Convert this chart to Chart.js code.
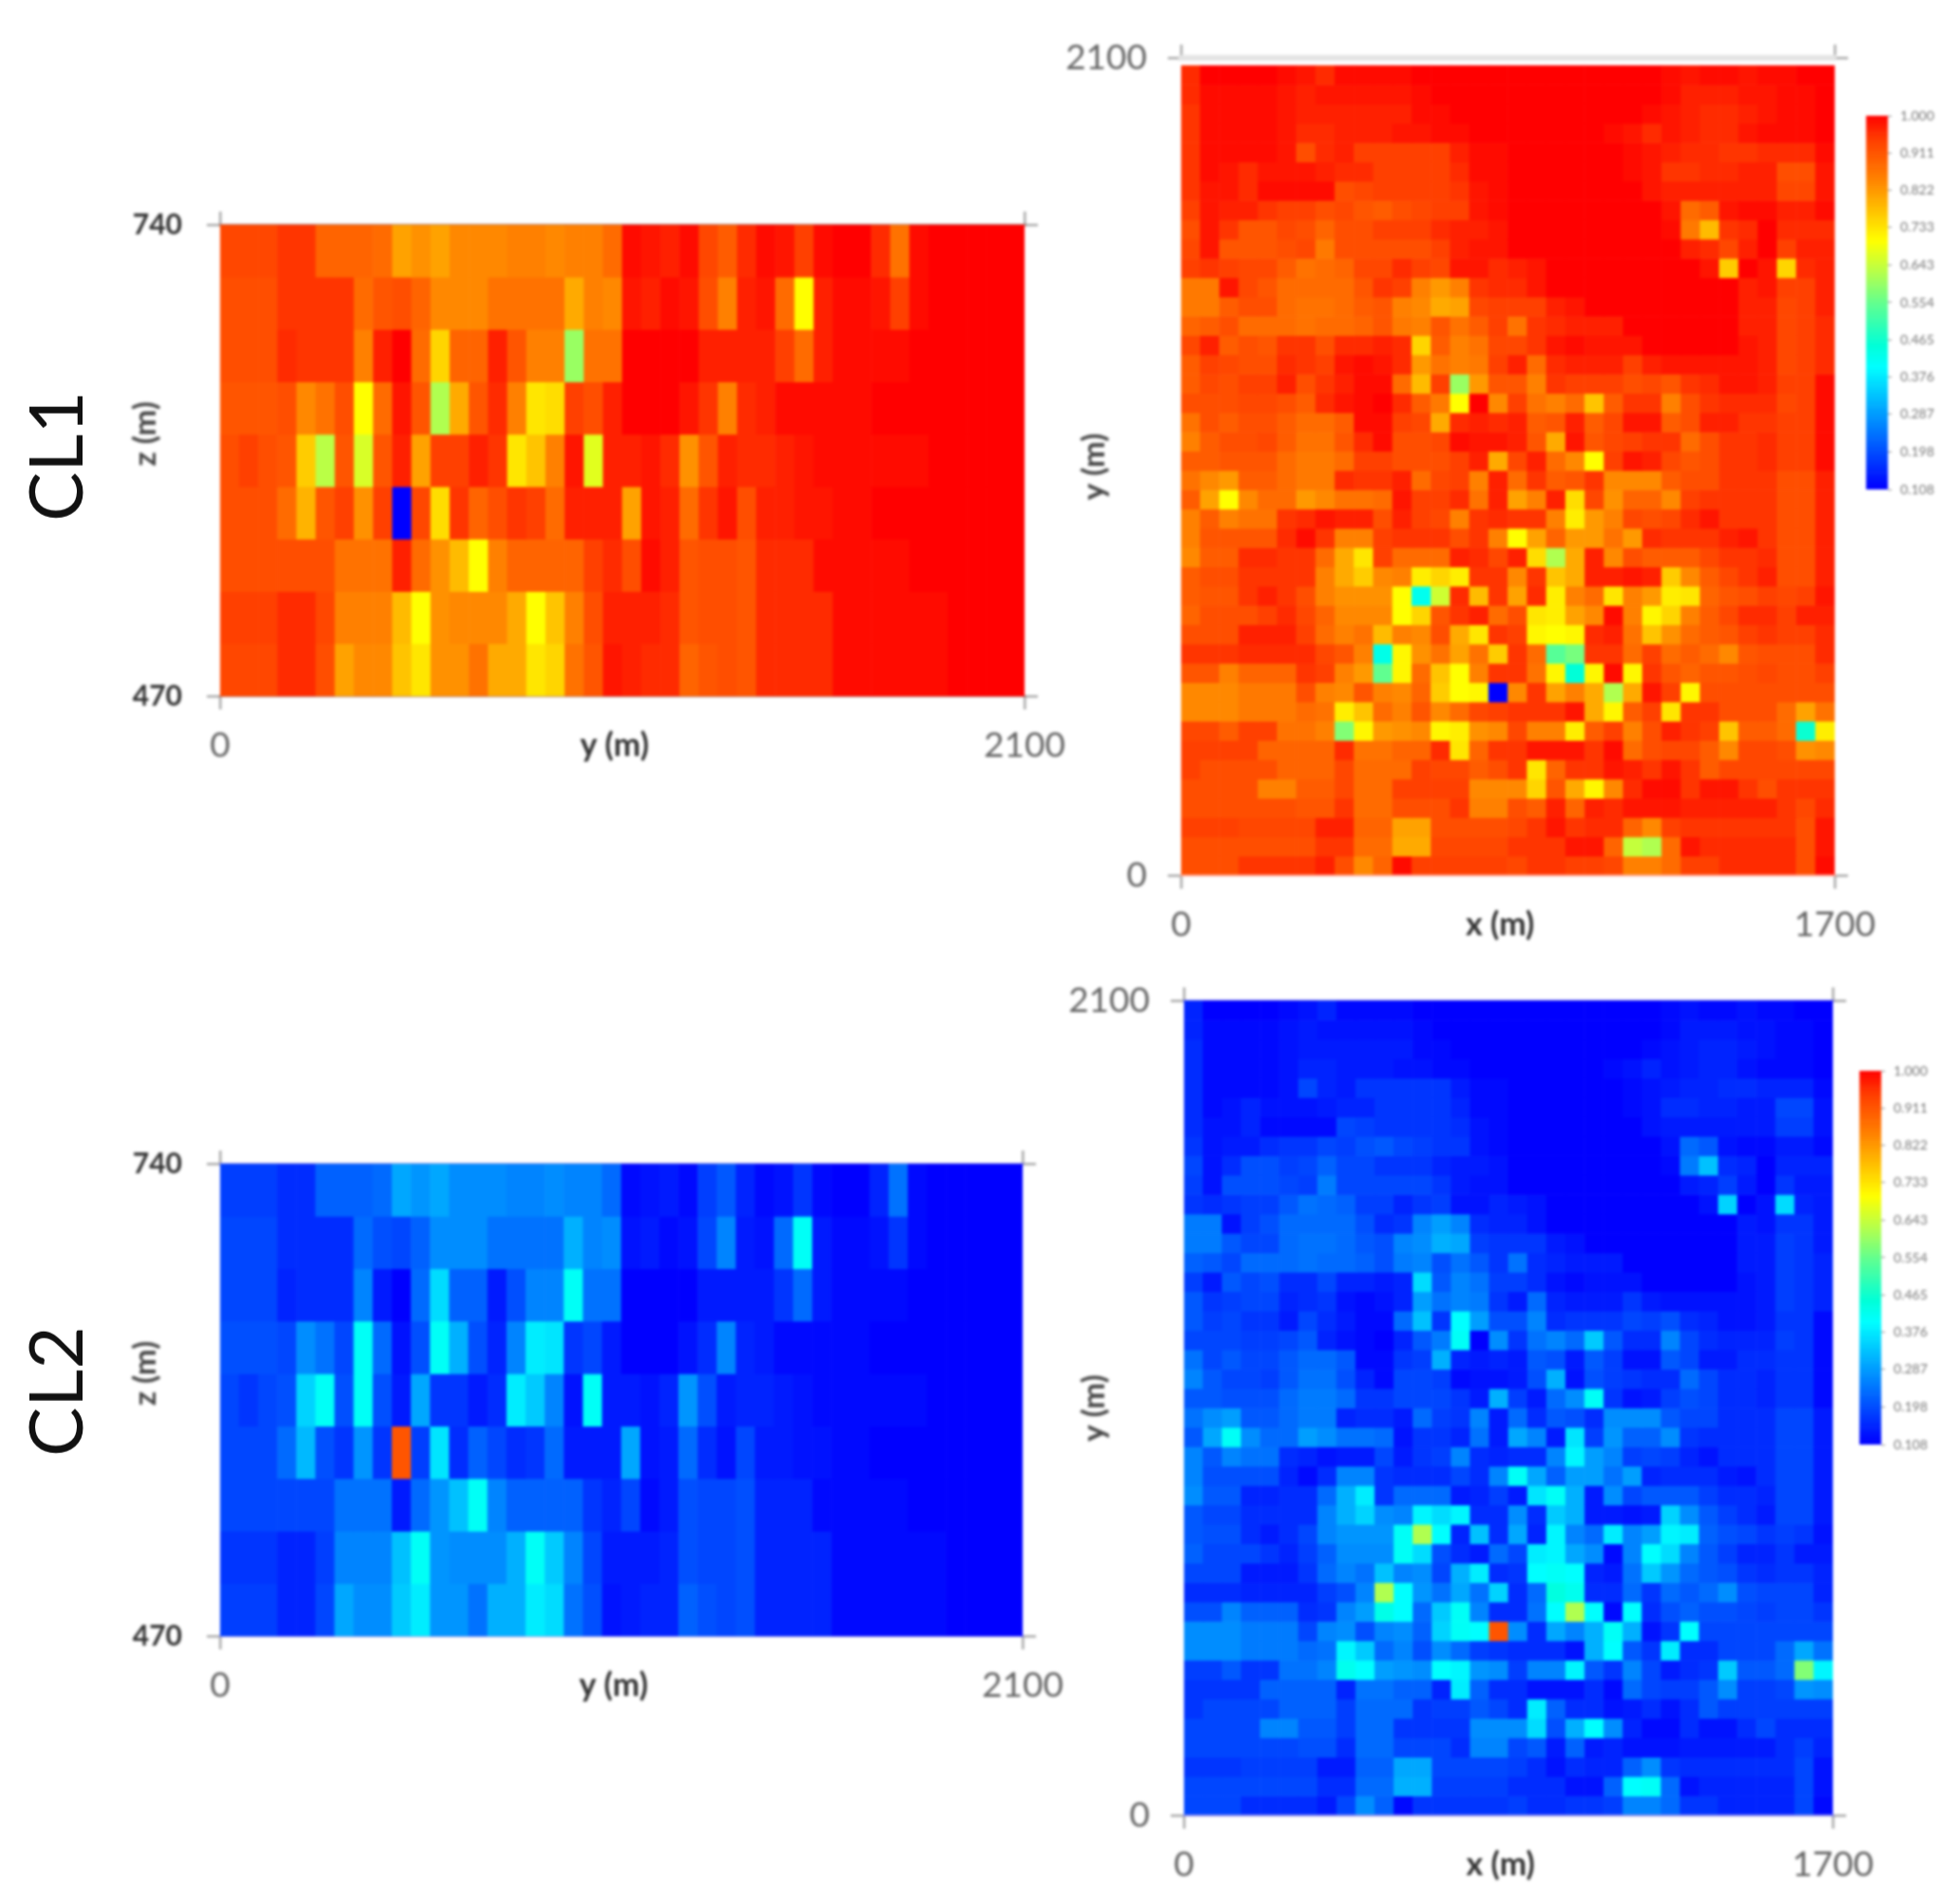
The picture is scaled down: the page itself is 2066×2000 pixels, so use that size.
<!DOCTYPE html>
<html>
<head>
<meta charset="utf-8">
<script src="https://cdn.jsdelivr.net/npm/chart.js@4"></script>
<style>
html,body{margin:0;padding:0;background:#fff}
#page{position:relative;width:2066px;height:2000px;overflow:hidden;background:#fff}
canvas{position:absolute;filter:blur(1.5px)}
.cl{position:absolute;font-family:Lato,sans-serif;font-size:78px;color:#111;transform-origin:center;transform:translate(-50%,-50%) rotate(-90deg);white-space:nowrap;filter:blur(.7px)}
</style>
</head>
<body>
<div id="page">
<div class="cl" style="left:57px;top:481px">CL1</div>
<div class="cl" style="left:57px;top:1467px">CL2</div>
</div>
<script>
// Values are memberships in hundredths, read cell by cell; first row = top of the panel.
const sideTicksX=[0,2100];
const sideTicksY=[470,740];
const planTicksX=[0,1700];
const planTicksY=[0,2100];
const colorbarTicks=[0.108,0.198,0.287,0.376,0.465,0.554,0.643,0.733,0.822,0.911,1.000];
const colorStops=[[11,[0,0,255]],[40,[0,255,255]],[45,[0,255,216]],[55,[96,255,144]],[62,[176,255,80]],[70,[255,255,0]],[85,[255,128,0]],[94,[255,64,0]],[100,[255,0,0]]];

const cl1Side=[
[93,93,93,95,95,89,89,89,88,81,83,81,84,84,84,85,85,84,85,85,88,99,98,97,99,93,90,96,99,98,94,99,100,100,96,87,99,100,100,100,100,100],
[92,92,92,95,95,95,95,88,91,92,89,84,84,84,87,87,87,87,80,85,84,98,97,99,98,92,85,97,98,88,70,97,99,99,98,94,99,100,100,100,100,100],
[92,92,92,96,95,95,95,85,97,100,88,75,89,89,97,91,85,85,60,87,87,100,100,100,100,97,97,97,97,94,88,97,99,99,99,99,100,100,100,100,100,100],
[91,91,91,92,84,87,92,70,88,98,91,62,80,91,96,85,73,74,94,92,97,100,100,100,98,95,85,96,97,99,99,99,99,99,100,100,100,100,100,100,100,100],
[92,94,92,91,76,63,91,66,91,97,81,94,94,97,95,73,77,85,98,67,97,97,98,96,83,91,97,96,96,97,98,99,99,99,99,99,99,100,100,100,100,100],
[92,92,92,88,79,91,94,83,94,11,93,74,95,89,92,95,94,88,97,97,97,81,98,97,88,95,98,92,97,97,98,98,99,99,100,100,100,100,100,100,100,100],
[92,92,92,92,92,92,87,87,87,97,88,83,78,70,85,89,89,89,89,94,96,92,99,97,91,92,92,91,96,96,96,99,99,99,99,99,100,100,100,100,100,100],
[94,94,94,96,96,93,85,85,85,78,70,83,84,84,84,80,70,77,85,92,97,97,97,96,91,92,92,91,96,96,96,96,99,99,99,99,99,99,100,100,100,100],
[93,93,93,96,96,92,81,84,84,77,73,83,83,87,80,80,73,75,87,91,98,97,96,96,89,91,92,91,96,96,96,96,99,99,99,99,99,99,100,100,100,100]
];
const cl2Side=[
[18,18,18,16,16,22,22,22,23,30,28,30,27,27,27,26,26,27,26,26,23,12,13,14,12,18,21,15,12,13,17,12,11,11,15,24,12,11,11,11,11,11],
[19,19,19,16,16,16,16,23,20,19,22,27,27,27,24,24,24,24,31,26,27,13,14,12,13,19,26,14,13,23,41,14,12,12,13,17,12,11,11,11,11,11],
[19,19,19,15,16,16,16,26,14,11,23,36,22,22,14,20,26,26,41,24,24,11,11,11,11,14,14,14,14,17,23,14,12,12,12,12,11,11,11,11,11,11],
[20,20,20,19,27,24,19,41,23,13,20,41,31,20,15,26,38,37,17,19,14,11,11,11,13,16,26,15,14,12,12,12,12,12,11,11,11,11,11,11,11,11],
[19,17,19,20,35,41,20,41,20,14,30,17,17,14,16,38,34,26,13,41,14,14,13,15,28,20,14,15,15,14,13,12,12,12,12,12,12,11,11,11,11,11],
[19,19,19,23,32,20,17,28,17,91,18,37,16,22,19,16,17,23,14,14,14,30,13,14,23,16,13,19,14,14,13,13,12,12,11,11,11,11,11,11,11,11],
[19,19,19,19,19,19,24,24,24,14,23,28,33,41,26,22,22,22,22,17,15,19,12,14,20,19,19,20,15,15,15,12,12,12,12,12,11,11,11,11,11,11],
[17,17,17,15,15,18,26,26,26,33,41,28,27,27,27,31,41,34,26,19,14,14,14,15,20,19,19,20,15,15,15,15,12,12,12,12,12,12,11,11,11,11],
[18,18,18,15,15,19,30,27,27,34,38,28,28,24,31,31,38,36,24,20,13,14,15,15,22,20,19,20,15,15,15,15,12,12,12,12,12,12,11,11,11,11]
];
const cl1Plan=[
[96,100,100,100,100,99,98,96,99,99,99,99,100,100,100,100,100,100,100,100,100,100,100,100,100,99,98,99,99,98,99,99,100,100],
[96,99,99,99,99,98,97,98,98,98,98,98,99,100,100,100,100,100,100,100,100,100,100,100,100,99,97,97,97,98,98,99,99,100],
[95,99,99,99,99,98,97,97,97,97,97,97,99,99,100,100,100,100,100,100,100,100,100,100,99,98,97,96,96,97,98,99,99,100],
[95,99,99,99,99,98,96,96,97,97,97,98,98,99,99,100,100,100,100,100,100,100,99,98,96,98,97,96,96,98,99,99,99,100],
[95,99,99,99,99,98,92,96,97,94,94,94,94,94,97,99,99,100,100,100,100,100,100,99,98,97,96,96,95,95,96,96,96,99],
[95,99,98,96,98,98,98,97,96,96,94,94,94,94,96,99,99,100,100,100,100,100,100,99,98,95,95,96,96,97,97,92,92,98],
[95,98,98,96,99,99,99,99,92,93,94,94,94,94,95,98,99,100,100,100,100,100,100,100,98,97,97,97,97,97,97,93,93,98],
[94,98,97,97,95,94,94,92,93,91,90,92,93,94,94,98,99,100,100,100,100,100,100,100,100,98,88,90,98,99,99,97,97,99],
[92,98,95,91,91,93,92,89,92,92,94,94,94,96,97,97,98,100,100,100,100,100,100,100,100,99,86,78,95,96,100,96,96,96],
[93,98,91,91,91,92,93,86,92,92,92,92,92,94,97,98,98,100,100,100,100,100,100,100,100,100,97,96,93,97,100,94,97,97],
[94,95,94,93,93,90,87,88,89,93,93,96,94,93,98,98,96,97,98,100,100,100,100,100,100,100,100,98,76,100,98,75,96,97],
[86,86,98,93,91,88,88,88,88,91,95,94,85,82,85,95,96,96,98,100,100,100,100,100,100,100,100,100,100,97,98,94,94,97],
[86,86,90,92,92,88,87,87,88,90,91,85,84,80,81,93,94,94,94,97,98,100,100,100,100,100,100,100,100,97,97,93,94,97],
[89,90,92,88,88,88,87,88,88,89,91,86,85,91,87,90,94,87,95,96,97,97,97,100,100,100,100,100,100,97,97,93,94,96],
[93,97,90,92,91,95,95,92,96,96,97,96,75,90,85,87,93,93,95,98,99,98,98,98,100,100,100,100,100,98,97,93,94,96],
[90,94,93,92,92,96,95,94,98,99,98,96,82,87,85,86,94,97,88,96,97,97,97,94,97,98,98,98,98,98,97,93,94,96],
[90,93,92,94,94,97,92,95,97,99,99,88,78,94,60,82,91,91,85,95,94,94,94,92,93,91,95,96,98,98,97,94,94,99],
[92,92,92,93,93,92,90,96,98,99,100,96,90,86,70,100,84,94,87,85,88,77,90,95,95,85,92,95,96,96,96,93,94,99],
[87,92,90,92,92,90,88,88,90,99,99,94,93,80,96,97,96,97,90,91,97,90,93,98,98,90,92,97,97,95,95,94,94,99],
[85,90,92,92,93,90,87,87,91,96,99,92,92,93,99,98,98,97,91,80,98,91,93,94,95,95,88,92,95,95,96,94,94,99],
[90,90,91,91,91,88,86,86,88,94,94,92,92,92,94,97,80,93,97,88,84,70,94,98,97,93,91,92,95,95,96,94,94,99],
[87,84,82,90,90,88,86,86,96,95,95,97,88,93,94,85,97,88,95,90,91,95,84,84,84,90,92,92,95,95,95,92,92,97],
[90,81,70,84,88,88,82,84,87,87,88,98,94,94,96,87,97,81,85,97,74,93,83,89,89,84,94,95,95,95,95,92,92,97],
[85,90,85,87,87,95,96,98,97,97,92,97,94,93,85,95,96,95,95,85,72,82,85,93,92,93,96,98,95,95,95,92,92,97],
[85,91,91,91,91,96,99,95,85,85,94,95,95,95,92,95,85,70,81,89,82,82,87,82,96,95,95,95,97,98,95,92,92,97],
[84,90,90,96,96,95,95,88,80,73,94,88,88,88,97,96,93,97,74,62,80,97,84,92,90,90,90,93,95,95,96,92,92,97],
[90,92,92,95,95,95,95,85,80,76,84,85,72,75,72,95,95,84,95,77,80,97,97,98,97,76,84,90,93,95,97,92,92,97],
[90,91,91,95,97,95,92,85,83,83,83,70,42,65,96,78,95,81,96,72,85,88,73,85,82,72,73,89,91,92,94,93,94,98],
[89,92,92,92,94,96,93,89,84,84,84,70,75,91,95,97,88,92,73,72,81,84,99,85,71,75,85,90,93,96,96,94,97,97],
[92,92,92,97,97,97,94,88,85,87,78,85,84,92,80,73,95,94,71,70,71,96,97,87,77,83,88,90,91,94,95,94,94,96],
[95,95,95,96,96,96,96,93,91,85,43,71,83,87,81,87,76,95,88,54,57,95,95,88,94,88,90,88,84,91,92,92,92,96],
[91,91,85,89,89,89,95,94,85,82,55,71,88,77,70,85,95,95,87,71,45,71,99,71,95,91,89,91,91,92,93,92,92,94],
[84,84,84,86,86,86,92,85,84,91,85,84,89,76,70,71,11,84,95,81,85,80,62,80,98,94,71,92,92,92,92,92,92,92],
[84,84,84,86,86,86,88,87,72,77,88,85,91,84,88,93,94,95,95,95,98,80,71,90,94,73,95,95,92,92,92,88,81,87],
[93,93,90,94,94,87,87,85,58,71,82,83,84,71,72,83,84,93,85,85,72,90,94,85,92,97,95,94,77,90,90,88,46,72],
[94,94,94,94,89,89,89,89,96,87,87,89,89,96,73,89,95,95,98,98,98,95,99,88,92,93,93,90,84,93,93,92,83,84],
[94,92,92,92,92,89,89,89,93,88,88,88,94,93,93,90,92,95,73,89,95,95,98,97,95,98,95,90,93,93,93,93,93,93],
[92,92,92,92,85,85,90,90,93,88,88,94,94,94,94,84,84,84,75,91,80,71,84,96,99,99,95,98,98,95,92,95,95,95],
[92,92,92,92,92,92,91,91,95,88,88,92,92,92,95,85,85,92,90,97,89,97,96,98,98,98,97,97,97,97,97,95,93,96],
[94,94,94,93,93,93,93,97,97,89,89,81,81,92,92,92,92,93,95,98,95,96,96,89,84,94,95,95,95,95,95,95,92,98],
[92,92,92,92,92,92,92,95,95,88,88,80,80,93,93,93,93,95,95,95,98,98,89,64,62,88,98,96,96,96,96,96,92,98],
[92,92,92,95,95,95,95,97,92,84,89,99,94,94,94,94,94,93,95,95,94,94,93,85,85,88,94,94,96,96,96,96,92,99]
];
const cl2Plan=[
[15,11,11,11,11,12,13,15,12,12,12,12,11,11,11,11,11,11,11,11,11,11,11,11,11,12,13,12,12,13,12,12,11,11],
[15,12,12,12,12,13,14,13,13,13,13,13,12,11,11,11,11,11,11,11,11,11,11,11,11,12,14,14,14,13,13,12,12,11],
[16,12,12,12,12,13,14,14,14,14,14,14,12,12,11,11,11,11,11,11,11,11,11,11,12,13,14,15,15,14,13,12,12,11],
[16,12,12,12,12,13,15,15,14,14,14,13,13,12,12,11,11,11,11,11,11,11,12,13,15,13,14,15,15,13,12,12,12,11],
[16,12,12,12,12,13,19,15,14,17,17,17,17,17,14,12,12,11,11,11,11,11,11,12,13,14,15,15,16,16,15,15,15,12],
[16,12,13,15,13,13,13,14,15,15,17,17,17,17,15,12,12,11,11,11,11,11,11,12,13,16,16,15,15,14,14,19,19,13],
[16,13,13,15,12,12,12,12,19,18,17,17,17,17,16,13,12,11,11,11,11,11,11,11,13,14,14,14,14,14,14,18,18,13],
[17,13,14,14,16,17,17,19,18,20,21,19,18,17,17,13,12,11,11,11,11,11,11,11,11,13,23,21,13,12,12,14,14,12],
[19,13,16,20,20,18,19,22,19,19,17,17,17,15,14,14,13,11,11,11,11,11,11,11,11,12,25,33,16,15,11,15,15,15],
[18,13,20,20,20,19,18,25,19,19,19,19,19,17,14,13,13,11,11,11,11,11,11,11,11,11,14,15,18,14,11,17,14,14],
[17,16,17,18,18,21,24,23,22,18,18,15,17,18,13,13,15,14,13,11,11,11,11,11,11,11,11,13,35,11,13,36,15,14],
[25,25,13,18,20,23,23,23,23,20,16,17,26,29,26,16,15,15,13,11,11,11,11,11,11,11,11,11,11,14,13,17,17,14],
[25,25,21,19,19,23,24,24,23,21,20,26,27,31,30,18,17,17,17,14,13,11,11,11,11,11,11,11,11,14,14,18,17,14],
[22,21,19,23,23,23,24,23,23,22,20,25,26,20,24,21,17,24,16,15,14,14,14,11,11,11,11,11,11,14,14,18,17,15],
[18,14,21,19,20,16,16,19,15,15,14,15,36,21,26,24,18,18,16,13,12,13,13,13,11,11,11,11,11,13,14,18,17,15],
[21,17,18,19,19,15,16,17,13,12,13,15,29,24,26,25,17,14,23,15,14,14,14,17,14,13,13,13,13,13,14,18,17,15],
[21,18,19,17,17,14,19,16,14,12,12,23,33,17,40,29,20,20,26,16,17,17,17,19,18,20,16,15,13,13,14,17,17,12],
[19,19,19,18,18,19,21,15,13,12,11,15,21,25,41,11,27,17,24,26,23,34,21,16,16,26,19,16,15,15,15,18,17,12],
[24,19,21,19,19,21,23,23,21,12,12,17,18,31,15,14,15,14,21,20,14,21,18,13,13,21,19,14,14,16,16,17,17,12],
[26,21,19,19,18,21,24,24,20,15,12,19,19,18,12,13,13,14,20,31,13,20,18,17,16,16,23,19,16,16,15,17,17,12],
[21,21,20,20,20,23,25,25,23,17,17,19,19,19,17,14,31,18,14,23,27,41,17,13,14,18,20,19,16,16,15,17,17,12],
[24,27,29,21,21,23,25,25,15,16,16,14,23,18,17,26,14,23,16,21,20,16,27,27,27,21,19,19,16,16,16,19,19,14],
[21,30,41,27,23,23,29,27,24,24,23,13,17,17,15,24,14,30,26,14,37,18,28,22,22,27,17,16,16,16,16,19,19,14],
[26,21,26,24,24,16,15,13,14,14,19,14,17,18,26,16,15,16,16,26,39,29,26,18,19,18,15,13,16,16,16,19,19,14],
[26,20,20,20,20,15,12,16,26,26,17,16,16,16,19,16,26,41,30,22,29,29,24,29,15,16,16,16,14,13,16,19,19,14],
[27,21,21,15,15,16,16,23,31,38,17,23,23,23,14,15,18,14,37,41,31,14,27,19,21,21,21,18,16,16,15,19,19,14],
[21,19,19,16,16,16,16,26,31,35,27,26,39,36,39,16,16,27,16,34,31,14,14,13,14,35,27,21,18,16,14,19,19,14],
[21,20,20,16,14,16,19,26,28,28,28,41,62,40,15,33,16,30,15,39,26,23,38,26,29,39,38,22,20,19,17,18,17,13],
[22,19,19,19,17,15,18,22,27,27,27,41,36,20,16,14,23,19,38,39,30,27,12,26,40,36,26,21,18,15,15,17,14,14],
[19,19,19,14,14,14,17,23,26,24,33,26,27,19,31,38,16,17,40,41,40,15,14,24,34,28,23,21,20,17,16,17,17,15],
[16,16,16,15,15,15,15,18,20,26,62,40,28,24,30,24,35,16,23,44,42,16,16,23,17,23,21,23,27,20,19,19,19,15],
[20,20,26,22,22,22,16,17,26,29,43,40,23,34,41,26,16,16,24,40,62,40,12,40,16,20,22,20,20,19,18,19,19,17],
[27,27,27,25,25,25,19,26,27,20,26,27,22,35,41,40,91,27,16,30,26,31,41,31,13,17,40,19,19,19,19,19,19,19],
[27,27,27,25,25,25,23,24,39,34,23,26,20,27,23,18,17,16,16,16,13,31,40,21,17,38,16,16,19,19,19,23,30,24],
[18,18,21,17,17,24,24,26,42,40,29,28,27,40,39,28,27,18,26,26,39,21,17,26,19,14,16,17,34,21,21,23,58,39],
[17,17,17,17,22,22,22,22,15,24,24,22,22,15,38,22,16,16,13,13,13,16,12,23,19,18,18,21,27,18,18,19,28,27],
[17,19,19,19,19,22,22,22,18,23,23,23,17,18,18,21,19,16,38,22,16,16,13,14,16,13,16,21,18,18,18,18,18,18],
[19,19,19,19,26,26,21,21,18,23,23,17,17,17,17,27,27,27,36,20,31,40,27,15,12,12,16,13,13,16,19,16,16,16],
[19,19,19,19,19,19,20,20,16,23,23,19,19,19,16,26,26,19,21,14,22,14,15,13,13,13,14,14,14,14,14,16,18,15],
[17,17,17,18,18,18,18,14,14,22,22,30,30,19,19,19,19,18,16,13,16,15,15,22,27,17,16,16,16,16,16,16,19,13],
[19,19,19,19,19,19,19,16,16,23,23,31,31,18,18,18,18,16,16,16,13,13,22,40,41,23,13,15,15,15,15,15,19,13],
[19,19,19,16,16,16,16,14,19,27,22,12,17,17,17,17,17,18,16,16,17,17,18,26,26,23,17,17,15,15,15,15,19,12]
];

function jet(v){
  for(let i=1;i<colorStops.length;i++){
    const [b,cb]=colorStops[i];
    if(v<=b){
      const [a,ca]=colorStops[i-1];
      const t=Math.max(0,(v-a)/(b-a));
      return 'rgb('+ca.map((c,k)=>Math.round(c+(cb[k]-c)*t)).join(',')+')';
    }
  }
  return 'rgb(255,0,0)';
}

const tickGrey='#a8a8a8';
const page=document.getElementById('page');
function addCanvas(l,t,w,h){
  const c=document.createElement('canvas');
  c.width=w;c.height=h;
  c.style.left=l+'px';c.style.top=t+'px';c.style.width=w+'px';c.style.height=h+'px';
  page.appendChild(c);
  return c;
}
function setTicks(list){return s=>{s.ticks=list.map(value=>({value}));};}

function panel(p){
  const rightM=80,bottomM=80,topM=p.top-p.canvasTop,leftM=p.left-p.canvasLeft;
  const W=p.right-p.left+leftM+rightM,H=p.bottom-p.top+topM+bottomM;
  const canvas=addCanvas(p.canvasLeft,p.canvasTop,W,H);
  const rows=p.rows.length;
  const datasets=p.rows.map((row,r)=>({
    grouped:false,borderWidth:0,
    backgroundColor:row.map(jet),
    data:row.map((v,c)=>({x:p.xMin+p.colStep*(c+0.5),y:[p.yMin+p.rowStep*(rows-1-r),p.yMin+p.rowStep*(rows-r)]}))
  }));
  const markGrid={drawOnChartArea:false,drawTicks:true,tickLength:14,color:tickGrey,lineWidth:2.5,offset:false};
  const none={display:false};
  new Chart(canvas,{
    type:'bar',
    data:{datasets},
    options:{
      responsive:false,animation:false,events:[],
      layout:{padding:0},
      datasets:{bar:{categoryPercentage:1,barPercentage:1}},
      plugins:{legend:{display:false},tooltip:{enabled:false},title:{display:false}},
      scales:{
        x:{type:'linear',position:'bottom',offset:false,min:p.xMin,max:p.xMax,
           grid:markGrid,border:{display:true,color:p.edge,width:2},
           afterBuildTicks:setTicks(p.xTicks),afterFit:s=>{s.height=bottomM;},
           ticks:{autoSkip:false,maxRotation:0,padding:16,color:'#666',font:{family:'Lato',size:37},callback:v=>String(v)},
           title:{display:true,text:p.xTitle,color:'#333',font:{family:'Lato',size:34,weight:'bold'},padding:{top:0,bottom:8}}},
        y:{type:'linear',position:'left',min:p.yMin,max:p.yMax,
           grid:markGrid,border:none,
           afterBuildTicks:setTicks(p.yTicks),afterFit:s=>{s.width=leftM;},
           ticks:{autoSkip:false,padding:p.yPad,color:p.yColor,font:p.yFont,callback:v=>String(v)},
           title:{display:true,text:p.yTitle,color:'#444',font:{family:'Lato',size:33,weight:'bold'},padding:{top:34,bottom:0}}},
        x2:{type:'linear',position:'top',min:p.xMin,max:p.xMax,offset:false,
           grid:markGrid,border:p.band?{display:true,color:'#e4e4e4',width:6}:{display:true,color:p.edge,width:2},
           afterBuildTicks:setTicks(p.xTicks),afterFit:s=>{s.height=topM;},
           ticks:{display:false}},
        y2:{type:'linear',position:'right',min:p.yMin,max:p.yMax,
           grid:markGrid,border:none,
           afterBuildTicks:setTicks(p.yTicks),afterFit:s=>{s.width=rightM;},
           ticks:{display:false}}
      }
    }
  });
}

function colorbar(left,top,bottom){
  const padT=24,padB=24,barW=23,axisW=70;
  const canvas=addCanvas(left,top-padT,barW+axisW,bottom-top+padT+padB);
  const datasets=[];
  for(let i=0;i<90;i++){
    const lo=0.108+(1-0.108)*i/90,hi=0.108+(1-0.108)*(i+1)/90;
    datasets.push({grouped:false,borderWidth:0,backgroundColor:jet((lo+hi)*50),data:[[lo,hi]]});
  }
  new Chart(canvas,{
    type:'bar',
    data:{labels:[''],datasets},
    options:{
      responsive:false,animation:false,events:[],
      layout:{padding:{top:padT,bottom:padB,left:0,right:0}},
      datasets:{bar:{categoryPercentage:1,barPercentage:1}},
      plugins:{legend:{display:false},tooltip:{enabled:false}},
      scales:{
        x:{display:false},
        y:{type:'linear',position:'right',min:0.108,max:1,
           grid:{drawOnChartArea:false,tickLength:4,color:'#888'},border:{display:false},
           afterBuildTicks:setTicks(colorbarTicks),afterFit:s=>{s.width=axisW;},
           ticks:{autoSkip:false,padding:9,color:'#777',font:{family:'Lato',size:14},callback:v=>v.toFixed(3)}}
      }
    }
  });
}

const sideY={yPad:26,yColor:'#333',yFont:{family:'Lato',size:30,weight:'bold'},yTitle:'       z (m)'};
const planY={yPad:22,yColor:'#666',yFont:{family:'Lato',size:37},yTitle:'y (m)'};
const side={xMin:0,xMax:2100,yMin:470,yMax:740,colStep:50,rowStep:30,xTicks:sideTicksX,yTicks:sideTicksY,xTitle:'y (m)  ',canvasLeft:100};

panel({...side,...sideY,rows:cl1Side,left:232,right:1080,top:237,bottom:734,canvasTop:157,edge:'rgba(150,90,80,.75)'});
panel({...side,...sideY,rows:cl2Side,left:232,right:1078,top:1227,bottom:1725,canvasTop:1147,edge:'rgba(130,130,220,.8)'});
panel({xMin:0,xMax:1700,yMin:0,yMax:2100,colStep:50,rowStep:2080/42,xTicks:planTicksX,yTicks:planTicksY,xTitle:'x (m)  ',...planY,
  rows:cl1Plan,left:1245,right:1934,top:61,bottom:923,canvasLeft:1100,canvasTop:0,edge:'rgba(255,150,130,.8)',band:true});
panel({xMin:0,xMax:1700,yMin:0,yMax:2100,colStep:50,rowStep:50,xTicks:planTicksX,yTicks:planTicksY,xTitle:'x (m)  ',...planY,
  rows:cl2Plan,left:1248,right:1932,top:1055,bottom:1914,canvasLeft:1100,canvasTop:985,edge:'rgba(110,110,230,.8)'});
colorbar(1967,122,516);
colorbar(1960,1129,1523);
</script>
</body>
</html>
